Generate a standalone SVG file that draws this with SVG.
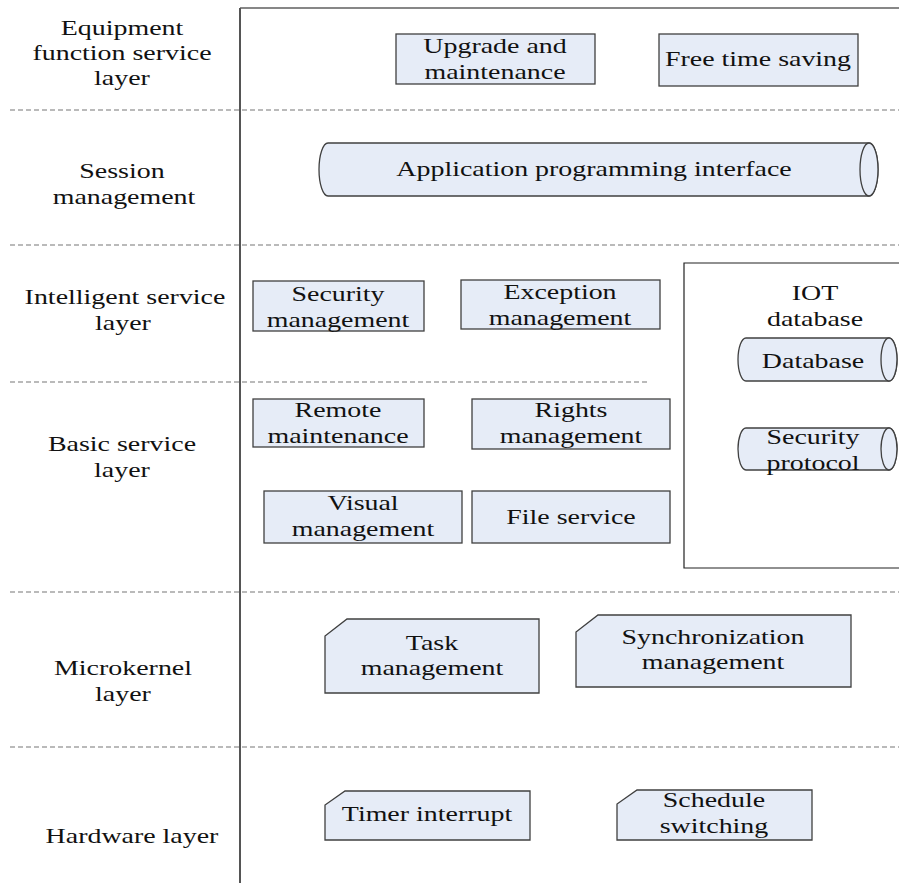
<svg xmlns="http://www.w3.org/2000/svg" width="899" height="883" viewBox="0 0 899 883">
<style>
.bg{fill:#ffffff}
.box{fill:#e6ecf7;stroke:#404040;stroke-width:1.3}
.frame{fill:none;stroke:#222;stroke-width:1.2}
.dash{fill:none;stroke:#777;stroke-width:1.2;stroke-dasharray:5 3}
.t{font-family:"Liberation Serif","Times New Roman",serif;font-size:22px;fill:#111;text-anchor:middle}
</style>
<rect class="bg" x="0" y="0" width="899" height="883"/>
<g id="frame">
<line x1="240" y1="8" x2="899" y2="8" stroke="#111" stroke-width="1.2"/>
<line x1="240" y1="8" x2="240" y2="883" stroke="#555" stroke-width="2"/>
</g>
<g id="connectors">
<line class="dash" x1="10" y1="110" x2="899" y2="110"/>
<line class="dash" x1="10" y1="245" x2="899" y2="245"/>
<line class="dash" x1="10" y1="382" x2="650" y2="382"/>
<line class="dash" x1="10" y1="592" x2="899" y2="592"/>
<line class="dash" x1="10" y1="747" x2="899" y2="747"/>
</g>
<g id="layer-labels">
<text class="t" transform="translate(122,35) scale(1.27,1)">Equipment</text>
<text class="t" transform="translate(122,60) scale(1.27,1)">function service</text>
<text class="t" transform="translate(122,85) scale(1.27,1)">layer</text>
<text class="t" transform="translate(122,178) scale(1.27,1)">Session</text>
<text class="t" transform="translate(124,204) scale(1.27,1)">management</text>
<text class="t" transform="translate(125,304) scale(1.27,1)">Intelligent service</text>
<text class="t" transform="translate(123,330) scale(1.27,1)">layer</text>
<text class="t" transform="translate(122,451) scale(1.27,1)">Basic service</text>
<text class="t" transform="translate(122,477) scale(1.27,1)">layer</text>
<text class="t" transform="translate(123,675) scale(1.27,1)">Microkernel</text>
<text class="t" transform="translate(123,701) scale(1.27,1)">layer</text>
<text class="t" transform="translate(132,843) scale(1.27,1)">Hardware layer</text>
</g>
<g id="upgrade">
<rect class="box" x="396" y="34" width="199" height="50"/>
<text class="t" transform="translate(495,53) scale(1.27,1)">Upgrade and</text>
<text class="t" transform="translate(495,79) scale(1.27,1)">maintenance</text>
</g>
<g id="free-time">
<rect class="box" x="659" y="34" width="199" height="52"/>
<text class="t" transform="translate(758,66) scale(1.27,1)">Free time saving</text>
</g>
<g id="api">
<path class="box" d="M328 143 L869 143 A9 26.5 0 0 1 869 196 L328 196 A9 26.5 0 0 1 328 143 Z"/>
<ellipse class="box" cx="869" cy="169.5" rx="9" ry="26.5"/>
<text class="t" transform="translate(594,176) scale(1.27,1)">Application programming interface</text>
</g>
<g id="iot-database">
<path class="frame" d="M900 263 L684 263 L684 568 L900 568"/>
<text class="t" transform="translate(815,300) scale(1.27,1)">IOT</text>
<text class="t" transform="translate(815,326) scale(1.27,1)">database</text>
</g>
<g id="database">
<path class="box" d="M746 338 L889 338 A8 21.5 0 0 1 889 381 L746 381 A8 21.5 0 0 1 746 338 Z"/>
<ellipse class="box" cx="889" cy="359.5" rx="8" ry="21.5"/>
<text class="t" transform="translate(813,368) scale(1.27,1)">Database</text>
</g>
<g id="security-protocol">
<path class="box" d="M746 428 L889 428 A8 21 0 0 1 889 470 L746 470 A8 21 0 0 1 746 428 Z"/>
<ellipse class="box" cx="889" cy="449" rx="8" ry="21"/>
<text class="t" transform="translate(813,444) scale(1.27,1)">Security</text>
<text class="t" transform="translate(813,470) scale(1.27,1)">protocol</text>
</g>
<g id="security-management">
<rect class="box" x="253" y="281" width="171" height="50"/>
<text class="t" transform="translate(338,301) scale(1.27,1)">Security</text>
<text class="t" transform="translate(338,327) scale(1.27,1)">management</text>
</g>
<g id="exception-management">
<rect class="box" x="461" y="280" width="199" height="49"/>
<text class="t" transform="translate(560,299) scale(1.27,1)">Exception</text>
<text class="t" transform="translate(560,325) scale(1.27,1)">management</text>
</g>
<g id="remote-maintenance">
<rect class="box" x="253" y="399" width="171" height="48"/>
<text class="t" transform="translate(338,417) scale(1.27,1)">Remote</text>
<text class="t" transform="translate(338,443) scale(1.27,1)">maintenance</text>
</g>
<g id="rights-management">
<rect class="box" x="472" y="399" width="198" height="50"/>
<text class="t" transform="translate(571,417) scale(1.27,1)">Rights</text>
<text class="t" transform="translate(571,443) scale(1.27,1)">management</text>
</g>
<g id="visual-management">
<rect class="box" x="264" y="491" width="198" height="52"/>
<text class="t" transform="translate(363,510) scale(1.27,1)">Visual</text>
<text class="t" transform="translate(363,536) scale(1.27,1)">management</text>
</g>
<g id="file-service">
<rect class="box" x="472" y="491" width="198" height="52"/>
<text class="t" transform="translate(571,524) scale(1.27,1)">File service</text>
</g>
<g id="task-management">
<path class="box" d="M347 619 L539 619 L539 693 L325 693 L325 636 Z"/>
<text class="t" transform="translate(432,650) scale(1.27,1)">Task</text>
<text class="t" transform="translate(432,675) scale(1.27,1)">management</text>
</g>
<g id="synchronization-management">
<path class="box" d="M598 615 L851 615 L851 687 L576 687 L576 632 Z"/>
<text class="t" transform="translate(713,644) scale(1.27,1)">Synchronization</text>
<text class="t" transform="translate(713,669) scale(1.27,1)">management</text>
</g>
<g id="timer-interrupt">
<path class="box" d="M345 791 L530 791 L530 840 L325 840 L325 805 Z"/>
<text class="t" transform="translate(427,821) scale(1.27,1)">Timer interrupt</text>
</g>
<g id="schedule-switching">
<path class="box" d="M637 790 L812 790 L812 840 L617 840 L617 804 Z"/>
<text class="t" transform="translate(714,807) scale(1.27,1)">Schedule</text>
<text class="t" transform="translate(714,833) scale(1.27,1)">switching</text>
</g>
</svg>
